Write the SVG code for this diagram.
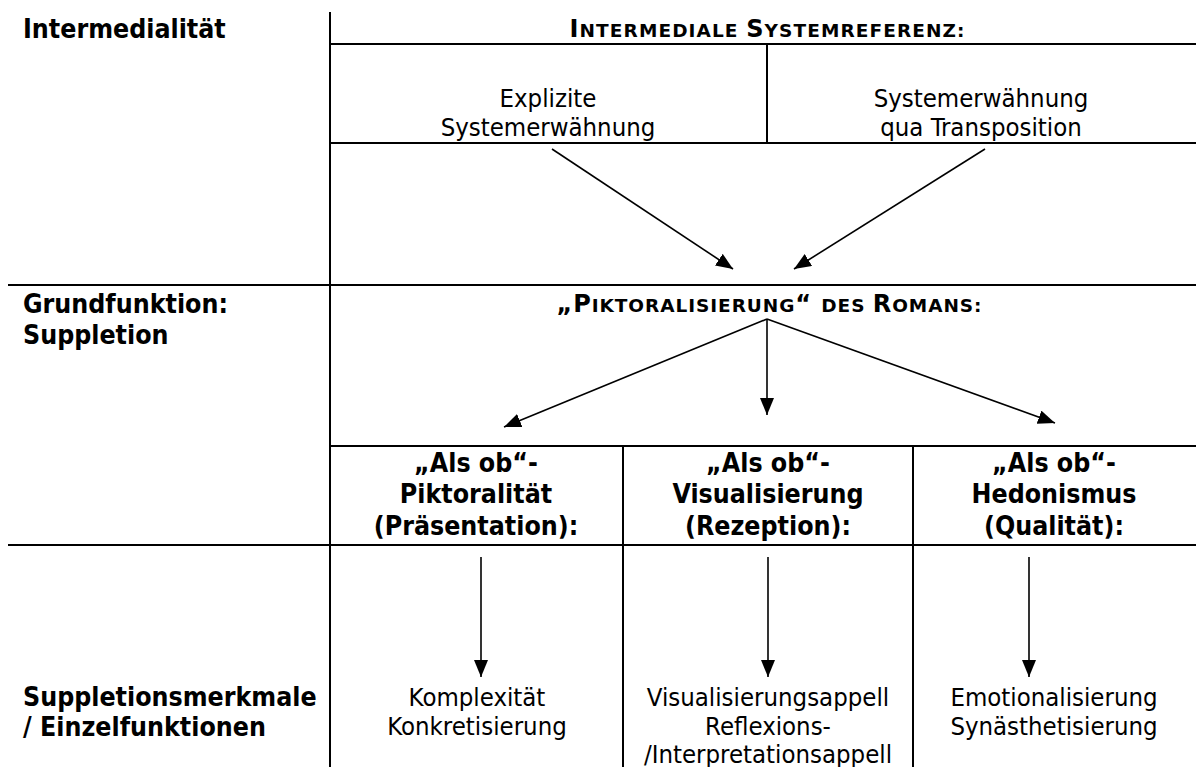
<svg xmlns="http://www.w3.org/2000/svg" width="1196" height="767" viewBox="0 0 1196 767">
<style>
  text { font-family: "DejaVu Sans Condensed", "DejaVu Sans", sans-serif; font-stretch: condensed; fill: #000; }
  .r { font-size: 25.5px; text-anchor: middle; }
  .b { font-size: 26.5px; font-weight: bold; }
  .bc { font-size: 26.5px; font-weight: bold; text-anchor: middle; }
  .sc { font-family: "DejaVu Sans", sans-serif; font-stretch: normal; font-weight: bold; text-anchor: middle; font-size: 24px; }
  .sm { font-size: 18.5px; }
  .grid line { stroke: #000; stroke-width: 2; }
  .arrows line { stroke: #000; stroke-width: 1.6; marker-end: url(#ah); }
</style>
<defs>
  <marker id="ah" markerUnits="userSpaceOnUse" markerWidth="20" markerHeight="16" refX="17" refY="7" orient="auto">
    <path d="M0,0 L17,7 L0,14 z" fill="#000"/>
  </marker>
</defs>
<rect width="1196" height="767" fill="#fff"/>
<g id="grid" class="grid">
  <line x1="330" y1="12" x2="330" y2="767"/>
  <line x1="330" y1="44" x2="1196" y2="44"/>
  <line x1="767" y1="44" x2="767" y2="143"/>
  <line x1="330" y1="143" x2="1196" y2="143"/>
  <line x1="8" y1="285" x2="1196" y2="285"/>
  <line x1="330" y1="446" x2="1196" y2="446"/>
  <line x1="623" y1="446" x2="623" y2="767"/>
  <line x1="913" y1="446" x2="913" y2="767"/>
  <line x1="8" y1="545" x2="1196" y2="545"/>
</g>
<g id="row-labels">
  <text class="b" x="23" y="38">Intermedialität</text>
  <text class="b" x="23" y="313">Grundfunktion:</text>
  <text class="b" x="23" y="344">Suppletion</text>
  <text class="b" x="23" y="706">Suppletionsmerkmale</text>
  <text class="b" x="23" y="736">/ Einzelfunktionen</text>
</g>
<g id="node-systemreferenz">
  <text class="sc" x="767" y="37" textLength="395" lengthAdjust="spacing">I<tspan class="sm">NTERMEDIALE </tspan>S<tspan class="sm">YSTEMREFERENZ:</tspan></text>
</g>
<g id="node-explizit">
  <text class="r" x="548" y="107">Explizite</text>
  <text class="r" x="548" y="136">Systemerwähnung</text>
</g>
<g id="node-transposition">
  <text class="r" x="981" y="107">Systemerwähnung</text>
  <text class="r" x="981" y="136">qua Transposition</text>
</g>
<g id="node-piktoralisierung">
  <text class="sc" x="769" y="312" textLength="425" lengthAdjust="spacing">„P<tspan class="sm">IKTORALISIERUNG</tspan>“ <tspan class="sm">DES </tspan>R<tspan class="sm">OMANS:</tspan></text>
</g>
<g id="node-piktoralitaet">
  <text class="bc" x="476" y="472">„Als ob“-</text>
  <text class="bc" x="476" y="503">Piktoralität</text>
  <text class="bc" x="476" y="535">(Präsentation):</text>
</g>
<g id="node-visualisierung">
  <text class="bc" x="768" y="472">„Als ob“-</text>
  <text class="bc" x="768" y="503">Visualisierung</text>
  <text class="bc" x="768" y="535">(Rezeption):</text>
</g>
<g id="node-hedonismus">
  <text class="bc" x="1054" y="472">„Als ob“-</text>
  <text class="bc" x="1054" y="503">Hedonismus</text>
  <text class="bc" x="1054" y="535">(Qualität):</text>
</g>
<g id="node-komplexitaet">
  <text class="r" x="477" y="706">Komplexität</text>
  <text class="r" x="477" y="735">Konkretisierung</text>
</g>
<g id="node-appell">
  <text class="r" x="768" y="706">Visualisierungsappell</text>
  <text class="r" x="768" y="735">Reflexions-</text>
  <text class="r" x="768" y="763">/Interpretationsappell</text>
</g>
<g id="node-emotion">
  <text class="r" x="1054" y="706">Emotionalisierung</text>
  <text class="r" x="1054" y="735">Synästhetisierung</text>
</g>
<g id="connectors" class="arrows">
  <line x1="552" y1="149" x2="733" y2="269"/>
  <line x1="985" y1="149" x2="794" y2="269"/>
  <line x1="767" y1="319" x2="504" y2="427"/>
  <line x1="767" y1="319" x2="767" y2="415"/>
  <line x1="767" y1="319" x2="1055" y2="423"/>
  <line x1="481" y1="557" x2="481" y2="677"/>
  <line x1="768" y1="557" x2="768" y2="677"/>
  <line x1="1029" y1="557" x2="1029" y2="677"/>
</g>
</svg>
